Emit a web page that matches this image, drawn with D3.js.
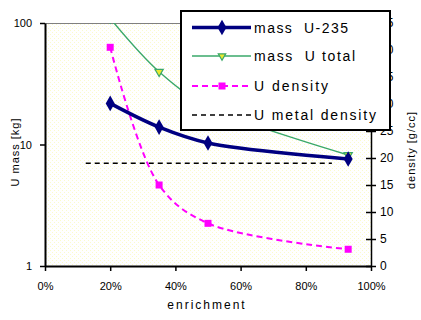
<!DOCTYPE html>
<html>
<head>
<meta charset="utf-8">
<script src="https://cdn.jsdelivr.net/npm/d3@7"></script>
<style>
  html, body { margin: 0; padding: 0; background: #fff; }
  svg { display: block; font-family: "Liberation Sans", Arial, sans-serif; }
</style>
</head>
<body>
<svg id="chart" width="421" height="320"></svg>
<script>
// Enrichment levels (fraction of U-235)
const enrichment = [0.20, 0.35, 0.50, 0.93];
// Mass of U-235 [kg] (left, log axis)
const massU235 = [21.8, 13.9, 10.3, 7.6];
// Total uranium mass [kg] (left, log axis)
const massUTotal = [109, 39.7, 20.6, 8.2];
// Uranium density [g/cc] (right axis)
const uDensity = [40.5, 15.0, 7.9, 3.1];
// Uranium metal density reference line [g/cc] (right axis)
const metalX = [0.125, 0.88];
const metalDensity = [19.05, 19.05];

// Axis ticks
const xTicks = [0, 0.2, 0.4, 0.6, 0.8, 1.0];
const leftTicks = [1, 10, 100];
const rightTicks = [0, 5, 10, 15, 20, 25, 30, 35, 40, 45];

const legendLabels = ["mass  U-235", "mass  U total", "U density", "U metal density"];

const svg = d3.select("#chart");
const L = 45, R = 371, T = 23, B = 266;

const x = d3.scaleLinear().domain([0, 1]).range([L, R]);
const yL = d3.scaleLog().domain([1, 100]).range([B, T]);
const yR = d3.scaleLinear().domain([0, 45]).range([B, T]);

// Dotted pale-yellow plot background
const defs = svg.append("defs");
const pat = defs.append("pattern").attr("id", "dots")
  .attr("width", 4).attr("height", 4).attr("patternUnits", "userSpaceOnUse");
pat.append("rect").attr("width", 4).attr("height", 4).attr("fill", "#ffffff");
pat.append("rect").attr("x", 0).attr("y", 0).attr("width", 1).attr("height", 1).attr("fill", "#fbfbcc");
pat.append("rect").attr("x", 2).attr("y", 2).attr("width", 1).attr("height", 1).attr("fill", "#fbfbcc");
defs.append("clipPath").attr("id", "plotclip")
  .append("rect").attr("x", L).attr("y", T).attr("width", R - L).attr("height", B - T);

svg.append("rect").attr("x", L).attr("y", T).attr("width", R - L).attr("height", B - T)
  .attr("fill", "url(#dots)");
// top frame line
svg.append("line").attr("x1", L).attr("x2", R).attr("y1", T + 0.5).attr("y2", T + 0.5)
  .attr("stroke", "#808080").attr("stroke-width", 1);

const plot = svg.append("g").attr("clip-path", "url(#plotclip)");

const curve = d3.curveCatmullRom.alpha(0.5);

// Black dashed metal density line
plot.append("path")
  .datum(metalX.map((v, i) => [v, metalDensity[i]]))
  .attr("d", d3.line().x(d => x(d[0])).y(d => yR(d[1])))
  .attr("fill", "none").attr("stroke", "#000").attr("stroke-width", 1.5)
  .attr("stroke-dasharray", "5,4");

// Magenta dashed U density
const densPts = enrichment.map((e, i) => [e, uDensity[i]]);
plot.append("path").datum(densPts)
  .attr("d", d3.line().curve(curve).x(d => x(d[0])).y(d => yR(d[1])))
  .attr("fill", "none").attr("stroke", "#ff00ff").attr("stroke-width", 2)
  .attr("stroke-dasharray", "6,4");
plot.selectAll(".dm").data(densPts).join("rect")
  .attr("x", d => x(d[0]) - 3.5).attr("y", d => yR(d[1]) - 3.5)
  .attr("width", 7).attr("height", 7).attr("fill", "#ff00ff");

// Green total mass
const totPts = enrichment.map((e, i) => [e, massUTotal[i]]);
plot.append("path").datum(totPts)
  .attr("d", d3.line().curve(curve).x(d => x(d[0])).y(d => yL(d[1])))
  .attr("fill", "none").attr("stroke", "#3aa86a").attr("stroke-width", 1.4);
const tri = d3.symbol().type(d3.symbolTriangle).size(30);
plot.selectAll(".tm").data(totPts).join("path")
  .attr("transform", d => `translate(${x(d[0])},${yL(d[1])}) rotate(180)`)
  .attr("d", tri).attr("fill", "#e8e830").attr("stroke", "#3aa86a").attr("stroke-width", 1.2);

// Navy U-235 mass
const u235Pts = enrichment.map((e, i) => [e, massU235[i]]);
plot.append("path").datum(u235Pts)
  .attr("d", d3.line().curve(curve).x(d => x(d[0])).y(d => yL(d[1])))
  .attr("fill", "none").attr("stroke", "#000080").attr("stroke-width", 3.5);
const dia = d3.symbol().type(d3.symbolDiamond).size(70);
plot.selectAll(".um").data(u235Pts).join("path")
  .attr("transform", d => `translate(${x(d[0])},${yL(d[1])})`)
  .attr("d", dia).attr("fill", "#000080");

// Axes
const axisStyle = g => {
  g.selectAll("text").attr("font-size", 11).attr("fill", "#000")
    .attr("font-family", "'Liberation Sans', Arial, sans-serif");
  g.selectAll("line").attr("stroke", "#000").attr("stroke-width", 1.5);
};

svg.append("g").attr("transform", `translate(${L},0)`)
  .call(d3.axisLeft(yL).tickValues(leftTicks).tickFormat(d3.format("d")).tickSize(5).tickSizeOuter(0).tickPadding(8))
  .call(g => g.select(".domain").attr("stroke", "#000").attr("stroke-width", 2))
  .call(axisStyle);

svg.append("g").attr("transform", `translate(0,${B})`)
  .call(d3.axisBottom(x).tickValues(xTicks).tickFormat(d3.format(".0%")).tickSize(5).tickSizeOuter(0).tickPadding(11))
  .call(g => g.select(".domain").attr("stroke", "#000").attr("stroke-width", 2))
  .call(axisStyle);

const rAxis = svg.append("g").attr("transform", `translate(${R},0)`)
  .call(d3.axisRight(yR).tickValues(rightTicks).tickSize(5).tickSizeOuter(0).tickPadding(4))
  .call(g => g.select(".domain").attr("stroke", "#000").attr("stroke-width", 1.5))
  .call(axisStyle);
rAxis.selectAll(".tick line").attr("x1", -5);
rAxis.selectAll(".tick text").attr("font-size", 12);

// Axis titles
svg.append("text").attr("transform", "translate(19,152) rotate(-90)")
  .attr("text-anchor", "middle").attr("font-size", 11).attr("letter-spacing", 1)
  .text("U mass [kg]");
svg.append("text").attr("transform", "translate(415,150) rotate(-90)")
  .attr("text-anchor", "middle").attr("font-size", 11).attr("letter-spacing", 1)
  .text("density [g/cc]");
svg.append("text").attr("x", 207).attr("y", 309)
  .attr("text-anchor", "middle").attr("font-size", 12).attr("letter-spacing", 2)
  .text("enrichment");

// Legend
const lg = svg.append("g");
lg.append("rect").attr("x", 181).attr("y", 11).attr("width", 209).attr("height", 119)
  .attr("fill", "#fff").attr("stroke", "#000").attr("stroke-width", 2);
const rows = [27.5, 56, 86, 115];
const textWidths = [94, 101, 74, 122];
const lx1 = 192, lx2 = 251, lm = 222;
// U-235
lg.append("line").attr("x1", lx1).attr("x2", lx2).attr("y1", rows[0]).attr("y2", rows[0])
  .attr("stroke", "#000080").attr("stroke-width", 3.5);
lg.append("path").attr("transform", `translate(${lm},${rows[0]})`).attr("d", dia).attr("fill", "#000080");
// total
lg.append("line").attr("x1", lx1).attr("x2", lx2).attr("y1", rows[1]).attr("y2", rows[1])
  .attr("stroke", "#3aa86a").attr("stroke-width", 1.4);
lg.append("path").attr("transform", `translate(${lm},${rows[1]}) rotate(180)`).attr("d", d3.symbol().type(d3.symbolTriangle).size(24))
  .attr("fill", "#e8e830").attr("stroke", "#3aa86a").attr("stroke-width", 1.2);
// density
lg.append("line").attr("x1", lx1).attr("x2", lx2).attr("y1", rows[2]).attr("y2", rows[2])
  .attr("stroke", "#ff00ff").attr("stroke-width", 2).attr("stroke-dasharray", "6,4");
lg.append("rect").attr("x", lm - 3.5).attr("y", rows[2] - 3.5).attr("width", 7).attr("height", 7).attr("fill", "#ff00ff");
// metal density
lg.append("line").attr("x1", lx1).attr("x2", lx2).attr("y1", rows[3]).attr("y2", rows[3])
  .attr("stroke", "#000").attr("stroke-width", 1.5).attr("stroke-dasharray", "5,4");

lg.selectAll(".lt").data(legendLabels).join("text")
  .attr("x", 254).attr("y", (d, i) => rows[i] + 5)
  .attr("font-size", 14).style("white-space", "pre")
  .attr("textLength", (d, i) => textWidths[i]).attr("lengthAdjust", "spacing")
  .text(d => d);
</script>
</body>
</html>
